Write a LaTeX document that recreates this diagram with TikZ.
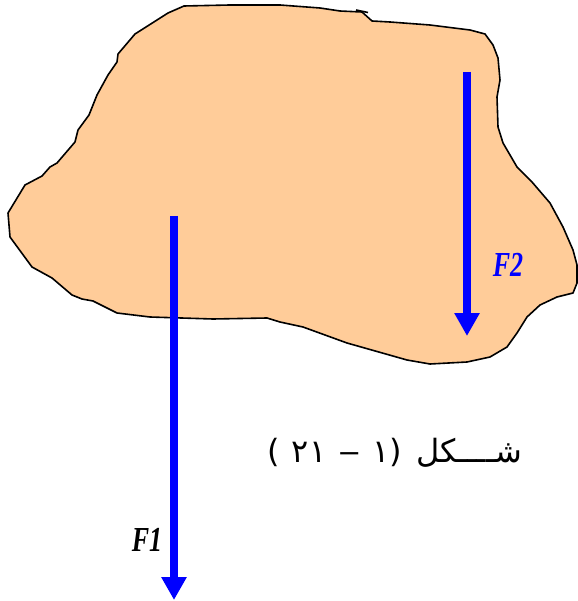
\documentclass[tikz,border=0pt]{standalone}
\usepackage{fontspec}
\usetikzlibrary{arrows.meta}
\TeXXeTstate=1
\newfontfamily\arabicfont[Script=Arabic]{DejaVu Sans}
\newfontfamily\dejavu{DejaVu Sans}
\newfontfamily\labelfont{Liberation Serif}
\definecolor{peach}{RGB}{255,204,153}
\definecolor{forceblue}{RGB}{0,0,255}
\tikzset{
  blob/.style={draw=black, line width=1.6pt, fill=peach, line join=round},
  force/.style={draw=forceblue, line width=8.5pt, -{Triangle[width=24pt,length=23pt]}},
  flabel/.style={inner sep=0pt, font=\labelfont\bfseries\itshape\fontsize{26}{28}\selectfont},
  caption/.style={inner sep=0pt, font=\arabicfont\fontsize{32}{36}\selectfont}
}
\begin{document}
\begin{tikzpicture}[x=1pt,y=-1pt]
\useasboundingbox (0,0) rectangle (577,601);
% body
\draw[blob] (184,6) -- (230,5) -- (280,5) -- (320,8) -- (340,11) -- (362,12) -- (372,21) -- (390,22) -- (430,25) -- (470,30) -- (485,34) -- (493,45) -- (498,58) -- (500,80) -- (497,97) -- (498,127) -- (503,143) -- (517,167) -- (532,182) -- (550,203) -- (563,227) -- (573,250) -- (577,265) -- (577,283) -- (573,293) -- (557,297) -- (540,305) -- (527,317) -- (517,333) -- (507,347) -- (490,357) -- (467,362) -- (430,364) -- (407,360) -- (347,343) -- (303,327) -- (280,322) -- (267,318) -- (213,319) -- (150,317) -- (117,313) -- (93,301) -- (82,299) -- (72,295) -- (52,278) -- (32,267) -- (10,237) -- (8,213) -- (25,185) -- (42,176) -- (50,167) -- (57,163) -- (75,142) -- (78,130) -- (89,115) -- (97,95) -- (108,75) -- (117,62) -- (118,54) -- (135,34) -- (168,13) -- cycle;
\draw[line width=1.6pt] (356,10) -- (368,12.5);
% forces
\coordinate (f1top) at (174,216);
\coordinate (f1tip) at (174,600);
\coordinate (f2top) at (467,72);
\coordinate (f2tip) at (467,336);
\draw[force] (f1top) -- (f1tip);
\draw[force] (f2top) -- (f2tip);
\node[flabel, text=forceblue] (lf2) at (508,265) {\scalebox{1}[1.35]{F2}};
\node[flabel, text=black] (lf1) at (147,540) {\scalebox{1}[1.35]{F1}};
% caption
\node[caption] (cap) at (395,453) {\beginR شــــكل\hspace{14pt}\beginL{\dejavu(\hspace{12pt}٢١\hspace{12pt}\scalebox{1.4}[1]{–}\hspace{12pt}١)}\endL\endR};
\end{tikzpicture}
\end{document}
